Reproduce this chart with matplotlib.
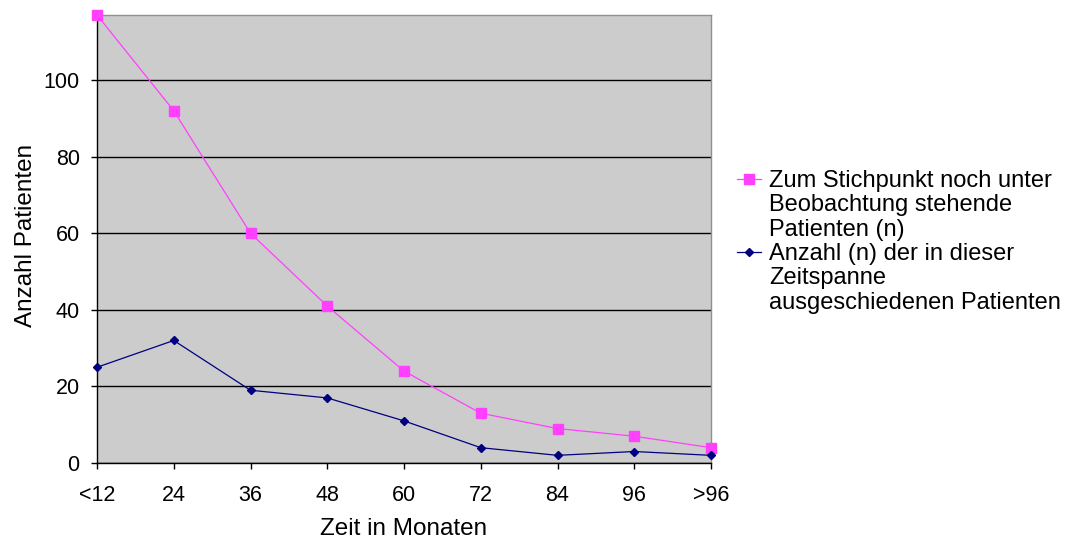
import numpy as np
import matplotlib
matplotlib.use("Agg")
import matplotlib.pyplot as plt
from matplotlib.lines import Line2D

plt.rcParams['font.family'] = ['Liberation Sans', 'DejaVu Sans']

# data
zeit = ['<12', '24', '36', '48', '60', '72', '84', '96', '>96']
beobachtet = [117, 92, 60, 41, 24, 13, 9, 7, 4]    # still under observation
ausgeschieden = [25, 32, 19, 17, 11, 4, 2, 3, 2]   # dropped out in this period

label_pink = ['Zum Stichpunkt noch unter', 'Beobachtung stehende', 'Patienten (n)']
label_blue = ['Anzahl (n) der in dieser', 'Zeitspanne', 'ausgeschiedenen Patienten']

pink = '#FF40FF'
navy = '#000080'

fig = plt.figure(figsize=(10.69, 5.38), dpi=100)
ax = fig.add_axes([97/1069, 75/538, 614/1069, 448/538])
ax.set_facecolor('#CCCCCC')

x = np.arange(len(zeit))
l1, = ax.plot(x, beobachtet, color=pink, lw=0.9, marker='s', ms=7.5,
              mec=pink, mfc=pink, clip_on=False, zorder=4)
l2, = ax.plot(x, ausgeschieden, color=navy, lw=0.9, marker='D', ms=4.2,
              mec=navy, mfc=navy, clip_on=False, zorder=4)

ax.set_xlim(0, len(zeit) - 1)
ax.set_ylim(0, 117)
ax.set_xticks(x)
ax.set_xticklabels(zeit)
ax.set_yticks([0, 20, 40, 60, 80, 100])
ax.yaxis.grid(True, color='black', lw=1)
ax.set_axisbelow(True)

for s in ['left', 'bottom']:
    ax.spines[s].set_color('black')
    ax.spines[s].set_linewidth(1)
for s in ['top', 'right']:
    ax.spines[s].set_color('#909090')
    ax.spines[s].set_linewidth(1)

ax.tick_params(axis='both', direction='out', length=4.5, width=1,
               color='black', labelsize=15.5)
ax.tick_params(axis='x', pad=11)
ax.tick_params(axis='y', pad=8)

ax.set_xlabel('Zeit in Monaten', fontsize=17.5, va='baseline')
ax.xaxis.set_label_coords(0.5, (463 - 535) / 448)
ax.set_ylabel('Anzahl Patienten', fontsize=17.5, va='baseline')
ax.yaxis.set_label_coords((32 - 97) / 614, (463 - 235) / 448)

blank = Line2D([], [], linestyle='none')
handles = [l1, blank, blank, l2, blank, blank]
labels = label_pink + label_blue
fig.legend(handles, labels, loc='upper left',
           bbox_to_anchor=(737/1069, 1 - 170/538),
           frameon=False, fontsize=17, handlelength=1.0,
           handletextpad=0.35, labelspacing=0.1, borderaxespad=0,
           borderpad=0)

fig.savefig('out.png', dpi=100)
